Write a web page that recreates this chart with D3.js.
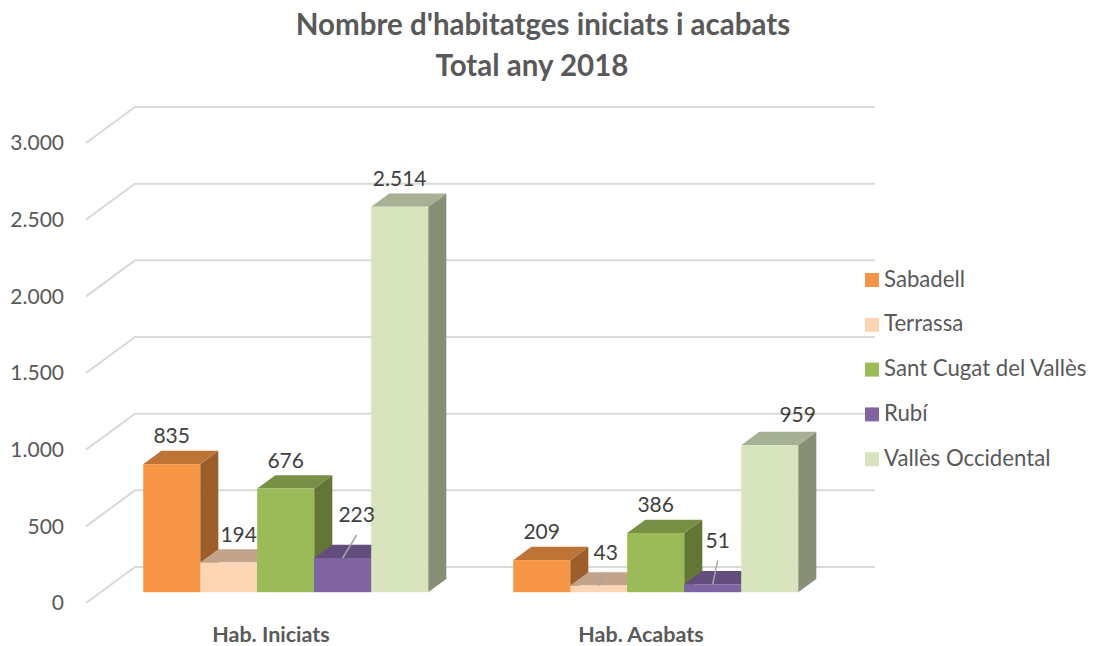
<!DOCTYPE html>
<html>
<head>
<meta charset="utf-8">
<script src="https://cdn.jsdelivr.net/npm/d3@7"></script>
<style>
  body { margin: 0; background: #fff; }
  text { font-family: Lato, "Open Sans", sans-serif; }
</style>
</head>
<body>
<div id="chart"></div>
<script>
// Data
var categories = ["Hab. Iniciats", "Hab. Acabats"];
var series = ["Sabadell", "Terrassa", "Sant Cugat del Vallès", "Rubí", "Vallès Occidental"];
var iniciats = [835, 194, 676, 223, 2514];
var acabats = [209, 43, 386, 51, 959];
var seriesColors = ["#F79646", "#FCD5B5", "#9BBB59", "#8064A2", "#D7E4BD"];
var yTicks = [0, 500, 1000, 1500, 2000, 2500, 3000];
var titleLines = ["Nombre d'habitatges iniciats i acabats", "Total any 2018"];

// label nudges (Excel moved a few labels off the bars)
var labelNudge = {
  "Hab. Iniciats|Terrassa": [10, 0, false],
  "Hab. Iniciats|Rubí": [14, -15, true],
  "Hab. Acabats|Terrassa": [7, -5, true],
  "Hab. Acabats|Rubí": [5, -16, true],
  "Hab. Acabats|Vallès Occidental": [28, -2, false]
};
var titleX = [543, 532];

var W = 1094, H = 646;
var depth = { dx: 49, dy: -36 };      // full depth of the 3D box
var barT0 = 0.30, barT1 = 0.67;       // bar front / back as fraction of depth

var svg = d3.select("#chart").append("svg")
  .attr("width", W).attr("height", H);

var x0 = d3.scaleBand().domain(categories).range([86, 826]);
var x1 = d3.scaleBand().domain(series).range([0, x0.bandwidth()]).paddingOuter(0.746);
var y = d3.scaleLinear().domain([0, 3000]).range([603, 143]);
var color = d3.scaleOrdinal().domain(series).range(seriesColors);
var fmt = d3.formatLocale({ decimal: ",", thousands: ".", grouping: [3], currency: ["", "€"] }).format(",d");

var rows = [];
categories.forEach(function(c, ci) {
  var vals = ci === 0 ? iniciats : acabats;
  series.forEach(function(s, si) {
    rows.push({ cat: c, name: s, value: vals[si] });
  });
});

// title
svg.append("g").selectAll("text")
  .data(titleLines)
  .enter().append("text")
  .attr("x", function(d, i) { return titleX[i]; })
  .attr("y", function(d, i) { return 35 + i * 41; })
  .attr("text-anchor", "middle")
  .attr("font-size", 29.5)
  .attr("font-weight", "bold")
  .attr("fill", "#595959")
  .text(function(d) { return d; });

// gridlines (front ledge + back wall)
var grid = svg.append("g");
grid.selectAll("path")
  .data(yTicks)
  .enter().append("path")
  .attr("fill", "none")
  .attr("stroke", "#D9D9D9")
  .attr("stroke-width", 2)
  .attr("d", function(d) {
    var yy = y(d);
    return "M" + [x0.range()[0], yy] + "L" + [x0.range()[0] + depth.dx, yy + depth.dy] +
      "L" + [x0.range()[1] + depth.dx, yy + depth.dy];
  });

// y axis labels
svg.append("g").selectAll("text")
  .data(yTicks)
  .enter().append("text")
  .attr("x", 64)
  .attr("y", function(d) { return y(d) + 2; })
  .attr("text-anchor", "end")
  .attr("dominant-baseline", "middle")
  .attr("font-size", 21)
  .attr("fill", "#595959")
  .text(function(d) { return fmt(d); });

function shade(c, k) {
  var r = d3.rgb(c);
  return d3.rgb(r.r * k, r.g * k, r.b * k).formatHex();
}

// bars, drawn left to right so next front face hides the previous side
var fdx = depth.dx * barT0, fdy = depth.dy * barT0;
var bdx = depth.dx * (barT1 - barT0), bdy = depth.dy * (barT1 - barT0);

svg.append("g").selectAll("g.bar")
  .data(rows)
  .enter().append("g")
  .attr("class", "bar")
  .each(function(d) {
    var g = d3.select(this);
    var xl = x0(d.cat) + x1(d.name) + fdx;
    var xr = xl + x1.bandwidth();
    var yb = y(0) + fdy;
    var yt = y(d.value) + fdy;
    var c = color(d.name);
    // side
    g.append("path")
      .attr("fill", shade(c, 0.63))
      .attr("d", "M" + [xr, yt] + "L" + [xr + bdx, yt + bdy] + "L" + [xr + bdx, yb + bdy] + "L" + [xr, yb] + "Z");
    // top
    g.append("path")
      .attr("fill", shade(c, 0.77))
      .attr("d", "M" + [xl, yt] + "L" + [xr, yt] + "L" + [xr + bdx, yt + bdy] + "L" + [xl + bdx, yt + bdy] + "Z");
    // front
    g.append("rect")
      .attr("x", xl).attr("y", yt)
      .attr("width", x1.bandwidth()).attr("height", yb - yt)
      .attr("fill", c);
  });

// value labels
var labels = svg.append("g");
rows.forEach(function(d) {
  var cx = x0(d.cat) + x1(d.name) + fdx + x1.bandwidth() / 2;
  var ty = y(d.value) + fdy;
  var n = labelNudge[d.cat + "|" + d.name] || [0, 0, false];
  var lx = cx + n[0], ly = ty - 26 + n[1];
  if (n[2]) {
    labels.append("line")
      .attr("x1", lx).attr("y1", ly + 18)
      .attr("x2", cx).attr("y2", ty)
      .attr("stroke", "#A6A6A6").attr("stroke-width", 1.5);
  }
  labels.append("text")
    .attr("x", lx).attr("y", ly)
    .attr("text-anchor", "middle")
    .attr("dominant-baseline", "middle")
    .attr("font-size", 21)
    .attr("fill", "#404040")
    .text(fmt(d.value));
});

// category labels
svg.append("g").selectAll("text")
  .data(categories)
  .enter().append("text")
  .attr("x", function(d) { return x0(d) + x0.bandwidth() / 2; })
  .attr("y", 636)
  .attr("text-anchor", "middle")
  .attr("dominant-baseline", "middle")
  .attr("font-size", 21.5)
  .attr("font-weight", "bold")
  .attr("fill", "#595959")
  .text(function(d) { return d; });

// legend
var legend = svg.append("g").selectAll("g")
  .data(series)
  .enter().append("g")
  .attr("transform", function(d, i) { return "translate(865," + (280 + i * 44.8) + ")"; });
legend.append("rect")
  .attr("x", 0).attr("y", -7)
  .attr("width", 14).attr("height", 14)
  .attr("fill", function(d) { return color(d); });
legend.append("text")
  .attr("x", 19).attr("y", 1)
  .attr("dominant-baseline", "middle")
  .attr("font-size", 22.2)
  .attr("fill", "#595959")
  .text(function(d) { return d; });
</script>
</body>
</html>
